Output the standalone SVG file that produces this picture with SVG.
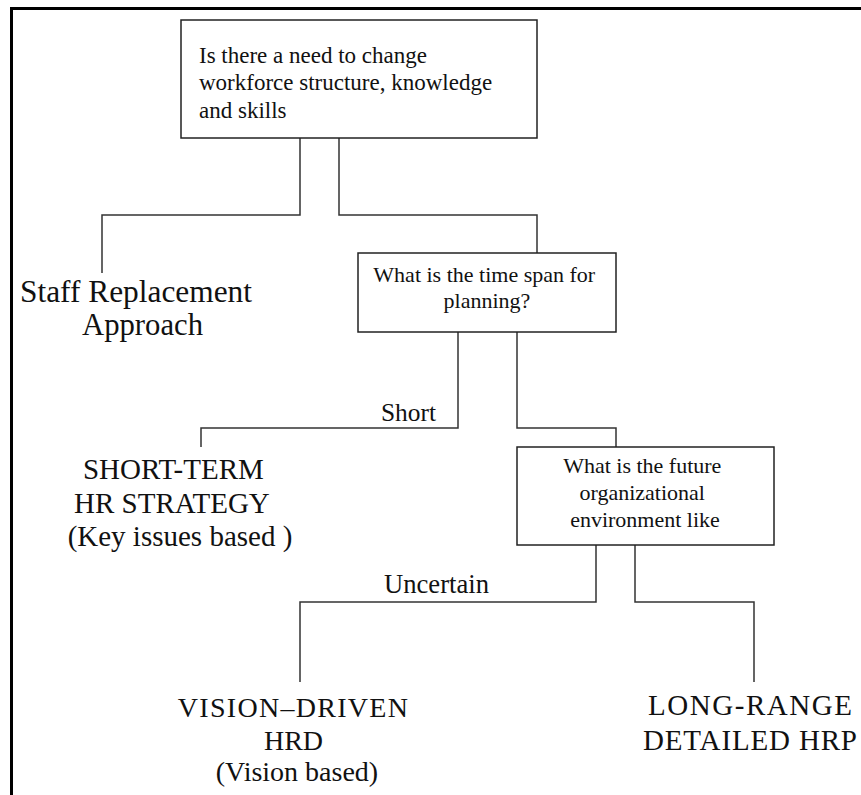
<svg xmlns="http://www.w3.org/2000/svg" width="861" height="795" viewBox="0 0 861 795">
<style>
.box{fill:#fff;stroke:#222;stroke-width:1.5}
.ln{fill:none;stroke:#333;stroke-width:1.5}
.t{font-family:"Liberation Serif","Times New Roman",serif;fill:#111}
.c{text-anchor:middle}
</style>
<rect width="861" height="795" fill="#fff"/>
<g id="frame">
<path d="M11.5 795 V8.5 H861" fill="none" stroke="#000" stroke-width="3"/>
</g>
<g id="connectors">
<path class="ln" d="M300 138 V215 H102 V273"/>
<path class="ln" d="M339 138 V215 H537 V253"/>
<path class="ln" d="M458 332 V428 H201 V447"/>
<path class="ln" d="M517 332 V428 H616 V447"/>
<path class="ln" d="M596 545 V602 H300 V682"/>
<path class="ln" d="M635 545 V602 H754 V682"/>
<text class="t" x="381" y="421" font-size="26" textLength="55" lengthAdjust="spacingAndGlyphs">Short</text>
<text class="t" x="384" y="593" font-size="27" textLength="105" lengthAdjust="spacingAndGlyphs">Uncertain</text>
</g>
<g id="q1">
<rect class="box" x="181" y="20" width="356" height="118"/>
<text class="t" font-size="23">
<tspan x="199" y="63">Is there a need to change</tspan>
<tspan x="199" y="90">workforce structure, knowledge</tspan>
<tspan x="199" y="117.5">and skills</tspan>
</text>
</g>
<g id="staff">
<text class="t" x="20" y="302" font-size="31" textLength="232" lengthAdjust="spacingAndGlyphs">Staff Replacement</text>
<text class="t" x="82" y="335" font-size="31" textLength="121" lengthAdjust="spacingAndGlyphs">Approach</text>
</g>
<g id="q2">
<rect class="box" x="358" y="253" width="258" height="79"/>
<text class="t c" font-size="22">
<tspan x="487" y="282">What is the time span for</tspan>
<tspan x="487" y="308">planning?</tspan>
</text>
</g>
<g id="shortterm">
<text class="t c" font-size="29">
<tspan x="177" y="479">SHORT-TERM</tspan>
<tspan x="175" y="513">HR STRATEGY</tspan>
<tspan x="180" y="546">(Key issues based )</tspan>
</text>
</g>
<g id="q3">
<rect class="box" x="517" y="447" width="257" height="98"/>
<text class="t c" font-size="22">
<tspan x="645" y="473">What is the future</tspan>
<tspan x="645" y="500">organizational</tspan>
<tspan x="645" y="527">environment like</tspan>
</text>
</g>
<g id="vision">
<text class="t c" font-size="28">
<tspan x="297" y="717" textLength="230" lengthAdjust="spacing">VISION–DRIVEN</tspan>
<tspan x="297" y="750">HRD</tspan>
<tspan x="297" y="781">(Vision based)</tspan>
</text>
</g>
<g id="longrange">
<text class="t" x="648" y="715" font-size="29" textLength="204" lengthAdjust="spacing">LONG-RANGE</text>
<text class="t" x="643" y="750" font-size="29" textLength="214" lengthAdjust="spacing">DETAILED HRP</text>
</g>
</svg>
